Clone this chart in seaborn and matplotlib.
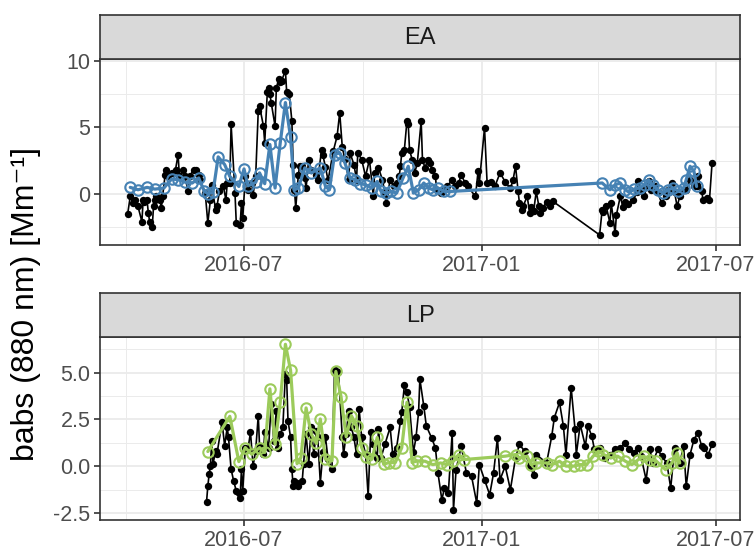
import numpy as np
import pandas as pd
import matplotlib
matplotlib.use("Agg")
import matplotlib.pyplot as plt
import matplotlib.dates as mdates
import matplotlib.ticker as mticker
import seaborn as sns

# ---------------- data (days counted from BASE_DATE) ----------------
BASE_DATE = "2016-07-01"
facet_labels = ["EA", "LP"]
y_label = "babs (880 nm) [Mm\u207b\u00b9]"
x_tick_dates = ["2016-07-01", "2017-01-01", "2017-07-01"]
x_minor_dates = ["2016-04-01", "2016-10-01", "2017-04-01"]
x_tick_labels = ["2016-07", "2017-01", "2017-07"]

ea_day = [-90, -88, -86, -84, -82, -79, -78, -77, -75, -74, -73, -71, -70, -69, -68, -65, -64, -63,
          -61, -60, -59, -56, -53, -51, -50, -47, -46, -43, -42, -39, -37, -35, -34, -30, -28, -26,
          -25, -22, -21, -19, -16, -14, -13, -11, -10, -7, -6, -3, -2, -1, 1, 3, 6, 7, 9, 11, 12,
          15, 16, 18, 19, 20, 21, 24, 25, 27, 28, 29, 32, 33, 35, 37, 38, 39, 40, 42, 43, 45, 47,
          48, 50, 52, 56, 57, 60, 61, 63, 65, 69, 72, 74, 76, 78, 81, 82, 85, 87, 88, 91, 94, 97,
          100, 101, 104, 107, 109, 110, 113, 116, 118, 120, 121, 122, 124, 126, 127, 128, 130, 132,
          134, 137, 138, 140, 142, 144, 145, 148, 149, 152, 154, 157, 161, 163, 166, 168, 171, 173,
          179, 181, 182, 186, 188, 191, 194, 198, 202, 206, 208, 210, 212, 213, 215, 216, 219, 221,
          222, 224, 226, 228, 229, 231, 234, 237, 239, 275, 277, 278, 280, 283, 284, 287, 288, 291,
          293, 295, 297, 301, 304, 305, 308, 309, 311, 313, 315, 318, 320, 323, 326, 328, 331, 333,
          335, 337, 340, 342, 345, 348, 350, 351, 354, 355, 358, 360, 362]
ea_val = [-1.52, -0.2, -0.7, -0.45, -0.96, -2.1, -0.45, -0.6, -0.5, -1.46, -2.1, -2.48, -0.96, -0.45,
          -0.2, -0.45, -1.08, -0.2, 1.44, 1.82, 1.31, 1.57, 1.82, 2.95, 1.31, 1.82, 1.31, 0.17, 1.31,
          1.82, 1.82, 1.44, 1.06, 0.05, -2.2, -0.45, 0.68, -1.2, -0.96, 0.17, 0.55, -0.45, 0.81, 0.81,
          5.23, 0.05, -2.2, -2.35, -0.7, -1.85, 1.31, 0.3, 0.81, -0.08, 1.31, 6.23, 6.6, 5.1, 3.84,
          7.63, 8.0, 7.5, 6.87, 5.1, 8.0, 8.64, 8.4, 8.5, 9.27, 7.63, 7.5, 5.48, 2.2, 0.3, -1.08, 1.44,
          2.08, 2.08, 1.2, 0.43, 2.58, 1.8, 1.44, 1.0, 3.33, 2.9, 2.0, 1.0, 3.2, 4.34, 6.11, 3.5, 2.6,
          1.06, 3.08, 2.2, 1.06, 3.08, 2.58, 1.31, 2.58, -0.2, 1.57, 1.95, 1.06, 0.05, -0.7, 1.06,
          0.55, 0.81, 1.31, 2.08, 3.08, 3.3, 5.48, 5.23, 3.3, 2.58, 1.57, 2.3, 5.48, 2.58, 1.95, 2.58,
          2.33, 1.8, 1.31, 0.3, 0.05, 0.3, 0.55, 1.06, 0.6, 0.8, 1.44, 0.8, 0.55, -0.2, 1.69, 0.8,
          4.97, 0.81, 0.9, 0.55, 1.57, 0.9, 0.4, 1.0, 2.08, 0.17, -0.7, -1.21, -0.9, -0.2, -1.46, -1.0,
          -1.3, 0.17, -0.9, -1.46, -1.1, -0.6, -0.9, -0.58, -3.1, -1.21, -1.4, -0.9, -2.2, -0.7, -2.98,
          -1.6, -0.2, -1.0, -0.6, -0.8, -0.45, 0.1, 0.93, 0.2, -0.2, 0.5, 0.93, 0.3, 0.6, 0.1, -0.7,
          -0.2, 0.3, 0.81, 0.1, -0.96, -0.2, 0.3, 0.3, 1.0, 0.6, 0.6, 1.31, 0.2, -0.45, -0.3, -0.45,
          2.33]

ea_mean_day = [-88, -82, -75, -69, -62, -56, -51, -46, -40, -35, -31, -28, -24, -20, -15, -11, -4, 0,
               3, 9, 12, 16, 20, 24, 28, 32, 36, 39, 42, 47, 52, 59, 63, 66, 70, 74, 78, 82, 86, 90,
               94, 99, 103, 106, 110, 114, 118, 123, 127, 131, 135, 139, 143, 146, 150, 155, 159,
               277, 283, 287, 291, 295, 298, 302, 306, 310, 313, 316, 320, 324, 328, 332, 336, 340,
               342, 345, 348, 350]
ea_mean_val = [0.48, 0.3, 0.48, 0.35, 0.43, 1.11, 1.06, 0.88, 0.81, 1.19, 0.23, 0.0, 0.1, 2.78, 2.2,
               1.31, 0.55, 1.87, 0.6, 0.86, 1.57, 0.76, 3.71, 0.43, 3.84, 6.87, 4.27, 0.3, 0.43, 1.95,
               1.57, 1.95, 0.55, 0.3, 2.95, 3.08, 2.33, 1.19, 1.06, 0.76, 0.68, 0.43, 0.93, 0.17, 0.05,
               0.17, 0.05, 1.19, 2.07, 0.05, 0.3, 0.81, 0.43, 0.3, 0.43, 0.17, 0.17,
               0.81, 0.3, 0.68, 0.81, 0.3, 0.1, 0.35, 0.43, 0.68, 1.06, 0.68, 0.3, 0.05, 0.3, 0.43,
               0.17, 0.43, 1.06, 2.07, 1.69, 0.55]

lp_day = [-29, -28, -27, -26, -25, -24, -22, -21, -17, -15, -13, -12, -10, -8, -6, -4, -3, -2, -1,
          1, 3, 5, 7, 9, 11, 12, 15, 16, 19, 21, 23, 25, 26, 28, 30, 32, 33, 34, 36, 37, 38, 39, 41,
          42, 45, 46, 48, 50, 52, 54, 56, 57, 59, 61, 63, 65, 68, 70, 73, 76, 77, 79, 81, 83, 85, 87,
          89, 91, 94, 96, 98, 100, 103, 104, 106, 109, 113, 115, 118, 121, 122, 124, 126, 128, 131,
          133, 135, 136, 139, 141, 145, 148, 150, 153, 155, 158, 161, 162, 164, 168, 172, 176, 180,
          182, 186, 190, 193, 196, 198, 202, 206, 210, 213, 217, 221, 224, 226, 234, 238, 240, 244,
          247, 249, 253, 256, 257, 260, 264, 266, 269, 271, 275, 279, 283, 287, 291, 295, 298, 302,
          305, 307, 311, 314, 316, 320, 323, 327, 330, 333, 337, 340, 342, 345, 348, 351, 354, 356,
          359, 362]
lp_val = [-1.91, -1.07, -0.44, 0.01, 1.35, 0.1, 0.82, 0.63, 2.34, 1.09, 2.07, 1.53, -0.17, -0.8,
          -1.33, -1.42, -1.69, -0.17, -1.33, 0.99, 0.9, 1.8, 0.01, 0.82, 2.7, 1.09, 0.63, 1.8, 0.99,
          3.32, 1.35, 2.97, 0.99, 1.71, 2.07, 4.94, 4.58, 2.43, 1.53, -0.17, -1.07, -0.8, -0.89, -1.07,
          -0.8, 0.1, 1.71, 0.1, 2.07, 0.63, 1.89, 1.53, -0.89, 0.73, 1.53, 0.37, -0.17, 5.12, 5.03,
          1.53, 0.63, 1.71, 2.97, 2.07, 1.53, 0.63, 3.05, 1.53, 0.63, -1.6, 1.8, 1.17, 0.46, 1.98,
          0.46, 1.17, 2.07, 0.63, 0.99, 2.43, 2.88, 4.31, 3.95, 3.15, 0.73, 1.53, 2.88, 4.65, 3.22,
          2.14, 1.52, 0.98, -0.37, -1.8, -1.17, -1.44, 1.78, -2.34, -0.19, 1.06, -0.37, -0.55, -1.98,
          0.08, -0.73, -1.53, -0.37, 1.52, -0.73, 0.0, -1.26, 0.44, 1.16, 0.8, 0.0, -0.46, 0.62, 0.17,
          1.6, 2.59, 3.4, 2.14, 0.62, 4.2, 1.96, 0.62, 2.23, 1.06, 2.14, 1.6, 0.89, 0.98, 0.44, 0.62,
          0.89, 0.98, 1.25, 0.89, 0.71, 0.98, 0.53, -0.73, 0.89, 0.17, 0.89, 0.53, 0.17, -1.17, 0.98,
          0.17, 1.06, -1.08, 0.62, 1.42, 1.78, 1.06, 0.98, 0.62, 1.16]

lp_mean_day = [-28, -11, -4, 1, 6, 12, 16, 20, 24, 28, 32, 36, 41, 44, 48, 52, 56, 59, 63, 68, 71, 75,
               79, 83, 87, 91, 94, 99, 103, 108, 112, 117, 122, 126, 130, 134, 140, 146, 152, 157,
               162, 166, 170, 202, 210, 213, 219, 222, 226, 234, 238, 244, 249, 255, 260, 265, 270,
               274, 278, 284, 289, 295, 300, 305, 309, 314, 319, 326, 331, 335, 337]
lp_mean_val = [0.78, 2.66, 0.24, 0.99, 0.63, 0.99, 0.73, 4.13, 1.17, 3.41, 6.51, 5.12, 0.13, 0.46,
               3.11, 1.71, 1.21, 2.52, 0.37, 0.28, 5.06, 3.72, 1.57, 2.7, 2.16, 0.99, 0.49, 0.37, 1.53,
               0.1, 0.19, 0.19, 0.99, 3.41, 0.19, 0.28, 0.26, 0.08, 0.17, 0.08, 0.26, 0.62, 0.35, 0.53,
               0.62, 0.44, 0.53, 0.08, 0.17, 0.17, 0.08, 0.26, 0.0, 0.0, 0.08, 0.08, 0.53, 0.8, 0.62,
               0.44, 0.53, 0.26, 0.08, 0.35, 0.53, 0.35, 0.26, -0.19, 0.17, 0.71, 0.17]

# ---------------- styling ----------------
sns.set_style("white")
plt.rcParams["font.family"] = ["Liberation Sans", "DejaVu Sans"]

W, H = 756, 553
fig = plt.figure(figsize=(W / 100, H / 100), dpi=100)

base = pd.Timestamp(BASE_DATE)


def frame(days, vals):
    return pd.DataFrame({"date": base + pd.to_timedelta(days, unit="D"), "babs": vals})


def fx(px):
    return px / W


def fy(px):
    return 1 - px / H


xlim = (base - pd.Timedelta(days=111.4), pd.Timestamp("2017-07-01") + pd.Timedelta(days=18.6))

panels = [
    dict(label=facet_labels[0], raw=frame(ea_day, ea_val), mean=frame(ea_mean_day, ea_mean_val),
         color="#4682B4", top=59, bottom=245, strip_top=15, ylim=(-3.86, 10.15),
         yticks=[0, 5, 10], yminor=[-2.5, 2.5, 7.5], fmt="%g"),
    dict(label=facet_labels[1], raw=frame(lp_day, lp_val), mean=frame(lp_mean_day, lp_mean_val),
         color="#9CCB5B", top=337, bottom=520, strip_top=293, ylim=(-2.88, 6.9),
         yticks=[-2.5, 0, 2.5, 5.0], yminor=[-1.25, 1.25, 3.75, 6.25], fmt="%.1f"),
]

left_px, right_px = 100, 740
border = "#333333"

for p in panels:
    ax = fig.add_axes([fx(left_px), fy(p["bottom"]), fx(right_px - left_px),
                       (p["bottom"] - p["top"]) / H])
    sns.lineplot(data=p["raw"], x="date", y="babs", ax=ax, color="black", lw=1.2,
                 marker="o", markersize=5.3, markeredgewidth=0, estimator=None, sort=True,
                 zorder=3)
    sns.lineplot(data=p["mean"], x="date", y="babs", ax=ax, color=p["color"], lw=2.3,
                 marker="o", markersize=7.5, markerfacecolor="none",
                 markeredgecolor=p["color"], markeredgewidth=1.5, estimator=None, sort=True,
                 zorder=4)
    ax.set_xlim(*xlim)
    ax.set_ylim(*p["ylim"])
    ax.xaxis.set_major_locator(mticker.FixedLocator(mdates.date2num(pd.to_datetime(x_tick_dates))))
    ax.xaxis.set_major_formatter(mticker.FixedFormatter(x_tick_labels))
    ax.xaxis.set_minor_locator(mticker.FixedLocator(mdates.date2num(pd.to_datetime(x_minor_dates))))
    ax.yaxis.set_major_locator(mticker.FixedLocator(p["yticks"]))
    ax.yaxis.set_major_formatter(mticker.FormatStrFormatter(p["fmt"]))
    ax.yaxis.set_minor_locator(mticker.FixedLocator(p["yminor"]))
    ax.grid(which="major", color="#EBEBEB", lw=1.3, zorder=0)
    ax.grid(which="minor", color="#EBEBEB", lw=0.7, zorder=0)
    ax.set_axisbelow(True)
    ax.set_xlabel("")
    ax.set_ylabel("")
    for s in ax.spines.values():
        s.set_color(border)
        s.set_linewidth(1.2)
        s.set_visible(True)
    ax.tick_params(which="major", length=4, width=1.2, color=border, labelcolor="#4D4D4D",
                   labelsize=15.5, pad=3, direction="out", bottom=True, left=True)
    ax.tick_params(which="minor", length=0)

    # facet strip
    sax = fig.add_axes([fx(left_px), fy(p["top"]), fx(right_px - left_px),
                        (p["top"] - p["strip_top"]) / H])
    sax.set_facecolor("#D9D9D9")
    sax.set_xticks([])
    sax.set_yticks([])
    for s in sax.spines.values():
        s.set_color(border)
        s.set_linewidth(1.2)
        s.set_visible(True)
    sax.text(0.5, 0.47, p["label"], ha="center", va="center", fontsize=17, color="#1A1A1A",
             transform=sax.transAxes)

fig.text(fx(26), fy(304), y_label, rotation=90, ha="center", va="center", fontsize=23,
         color="black")

fig.savefig("out.png", dpi=100)
